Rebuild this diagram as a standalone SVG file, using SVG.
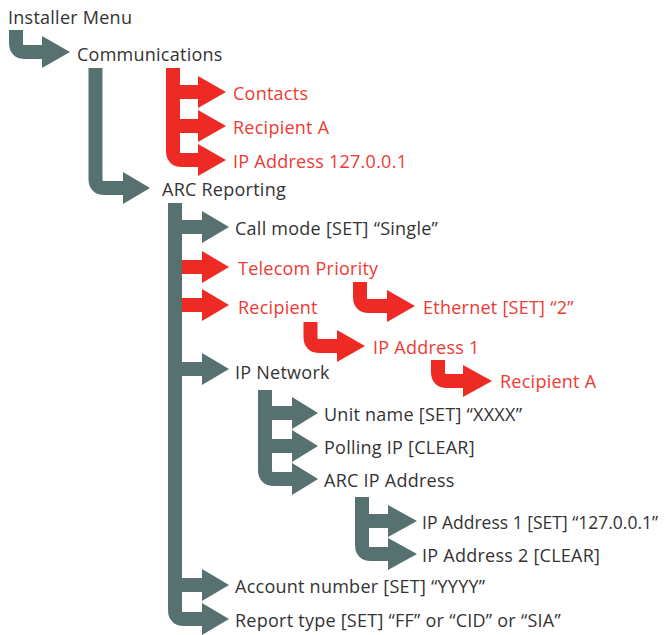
<svg xmlns="http://www.w3.org/2000/svg" width="666" height="635" viewBox="0 0 666 635">
<style>
.g{stroke:#577070;fill:none;stroke-width:14;}
.r{stroke:#ee2a24;fill:none;stroke-width:14;}
.gh{fill:#577070;}
.rh{fill:#ee2a24;}
text{font-family:"Open Sans","Liberation Sans",sans-serif;font-size:18px;letter-spacing:0.25px;}
.tk{fill:#333333;}
.tr{fill:#ee3a33;}
.tight{font-size:17.5px;letter-spacing:0px;}
</style>
<rect width="666" height="635" fill="#ffffff"/>
<g id="connectors">
  <!-- Installer Menu -> Communications -->
  <path class="g" d="M16,30 V43 Q16,52 25,52 H44"/>
  <polygon class="gh" points="42,36 70,52 42,68"/>
  <!-- Communications -> ARC Reporting -->
  <path class="g" d="M95.5,68 V179 Q95.5,188 104.5,188 H125"/>
  <polygon class="gh" points="123,172 150,188 123,204"/>
  <!-- Communications -> red tree -->
  <path class="r" d="M173,68 V151 Q173,160 182,160 H200"/>
  <path class="r" d="M173,92 H200 M173,126 H200"/>
  <polygon class="rh" points="198,76 226,92 198,108"/>
  <polygon class="rh" points="198,110 226,126 198,142"/>
  <polygon class="rh" points="198,144 226,160 198,176"/>
  <!-- ARC Reporting red branches (behind trunk) -->
  <path class="r" d="M172,267 H204 M172,305 H204"/>
  <polygon class="rh" points="202,251 229,267 202,283"/>
  <polygon class="rh" points="202,289 229,305 202,321"/>
  <!-- ARC Reporting gray trunk -->
  <path class="g" d="M175,203 V610 Q175,619 184,619 H204"/>
  <path class="g" d="M175,227 H204 M175,369 H204 M175,585 H204"/>
  <polygon class="gh" points="202,211 229,227 202,243"/>
  <polygon class="gh" points="202,353 229,369 202,385"/>
  <polygon class="gh" points="202,569 229,585 202,601"/>
  <polygon class="gh" points="202,603 229,619 202,635"/>
  <!-- Telecom Priority -> Ethernet -->
  <path class="r" d="M360,282 V297 Q360,306 369,306 H389"/>
  <polygon class="rh" points="387,290 415,306 387,322"/>
  <!-- Recipient -> IP Address 1 -->
  <path class="r" d="M310.5,322 V337 Q310.5,346 319.5,346 H339"/>
  <polygon class="rh" points="337,330 365,346 337,362"/>
  <!-- IP Address 1 -> Recipient A -->
  <path class="r" d="M438,360 V372 Q438,381 447,381 H465"/>
  <polygon class="rh" points="463,365 492,381 463,397"/>
  <!-- IP Network subtree -->
  <path class="g" d="M265,390 V470 Q265,479 274,479 H294"/>
  <path class="g" d="M265,413 H294 M265,446 H294"/>
  <polygon class="gh" points="292,397 318,413 292,429"/>
  <polygon class="gh" points="292,430 318,446 292,462"/>
  <polygon class="gh" points="292,463 318,479 292,495"/>
  <!-- ARC IP Address subtree -->
  <path class="g" d="M362,497 V545 Q362,554 371,554 H390"/>
  <path class="g" d="M362,521 H390"/>
  <polygon class="gh" points="388,505 417,521 388,537"/>
  <polygon class="gh" points="388,538 417,554 388,570"/>
</g>
<g id="node-installer-menu"><text class="tk" x="8" y="24">Installer Menu</text></g>
<g id="node-communications"><text class="tk" x="77" y="61">Communications</text></g>
<g id="node-contacts"><text class="tr" x="233" y="100">Contacts</text></g>
<g id="node-recipient-a-1"><text class="tr" x="233" y="134">Recipient A</text></g>
<g id="node-ip-address-127"><text class="tr" x="233" y="168">IP Address 127.0.0.1</text></g>
<g id="node-arc-reporting"><text class="tk" x="162" y="196">ARC Reporting</text></g>
<g id="node-call-mode"><text class="tk" x="235" y="235">Call mode [SET] “Single”</text></g>
<g id="node-telecom-priority"><text class="tr" x="238" y="275">Telecom Priority</text></g>
<g id="node-recipient"><text class="tr" x="238" y="314">Recipient</text></g>
<g id="node-ethernet"><text class="tr" x="423" y="314">Ethernet [SET] “2”</text></g>
<g id="node-ip-address-1-red"><text class="tr" x="373" y="354">IP Address 1</text></g>
<g id="node-recipient-a-2"><text class="tr" x="500" y="388">Recipient A</text></g>
<g id="node-ip-network"><text class="tk" x="235" y="379">IP Network</text></g>
<g id="node-unit-name"><text class="tk" x="324" y="421">Unit name [SET] “XXXX”</text></g>
<g id="node-polling-ip"><text class="tk" x="324" y="454">Polling IP [CLEAR]</text></g>
<g id="node-arc-ip-address"><text class="tk" x="324" y="487">ARC IP Address</text></g>
<g id="node-ip-address-1-set"><text class="tk tight" x="422" y="529">IP Address 1 [SET] “127.0.0.1”</text></g>
<g id="node-ip-address-2"><text class="tk" x="422" y="562">IP Address 2 [CLEAR]</text></g>
<g id="node-account-number"><text class="tk" x="235" y="593">Account number [SET] “YYYY”</text></g>
<g id="node-report-type"><text class="tk" x="235" y="627">Report type [SET] “FF” or “CID” or “SIA”</text></g>
</svg>
